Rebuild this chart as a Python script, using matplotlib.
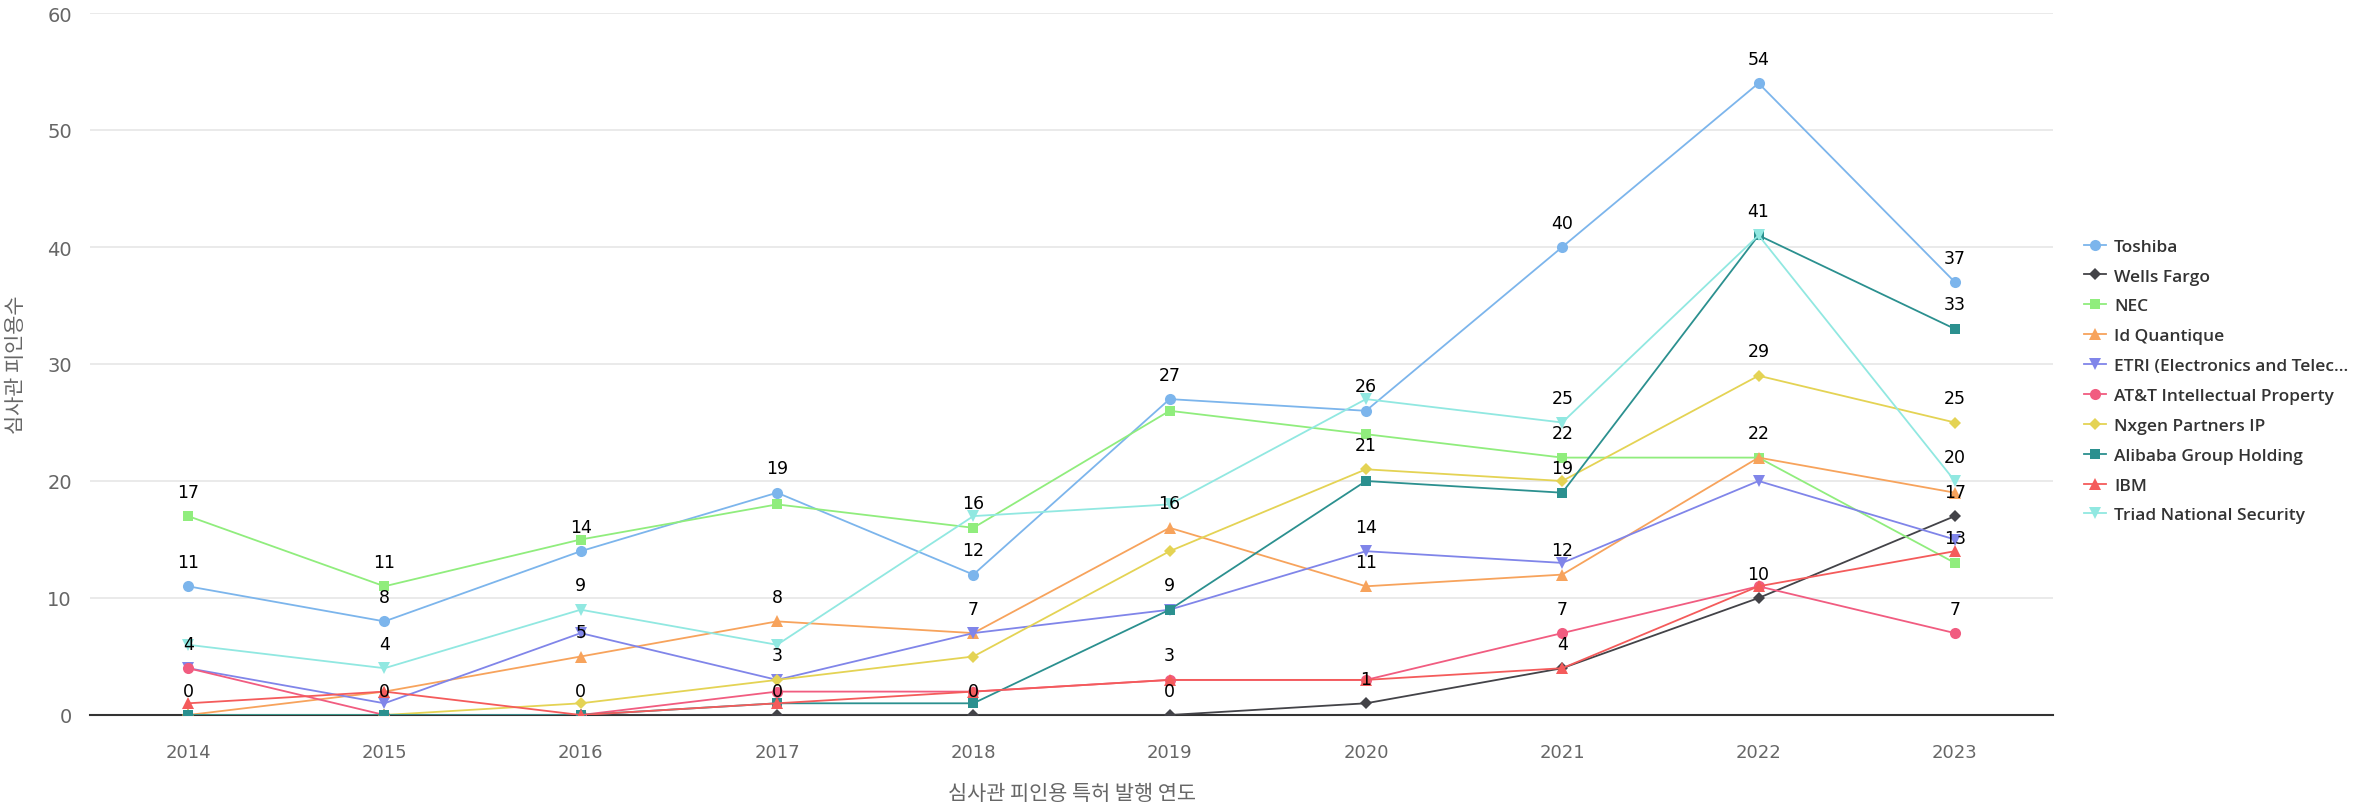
import matplotlib
matplotlib.use("Agg")
import matplotlib.pyplot as plt
import numpy as np

plt.rcParams['font.family'] = ['DejaVu Sans', 'Noto Sans CJK KR']

years = ["2014", "2015", "2016", "2017", "2018", "2019", "2020", "2021", "2022", "2023"]

series_names = ["Toshiba", "Wells Fargo", "NEC", "Id Quantique",
                "ETRI (Electronics and Telec...", "AT&T Intellectual Property",
                "Nxgen Partners IP", "Alibaba Group Holding", "IBM",
                "Triad National Security"]

toshiba = [11, 8, 14, 19, 12, 27, 26, 40, 54, 37]
wells_fargo = [0, 0, 0, 0, 0, 0, 1, 4, 10, 17]
nec = [17, 11, 15, 18, 16, 26, 24, 22, 22, 13]
id_quantique = [0, 2, 5, 8, 7, 16, 11, 12, 22, 19]
etri = [4, 1, 7, 3, 7, 9, 14, 13, 20, 15]
att = [4, 0, 0, 2, 2, 3, 3, 7, 11, 7]
nxgen = [0, 0, 1, 3, 5, 14, 21, 20, 29, 25]
alibaba = [0, 0, 0, 1, 1, 9, 20, 19, 41, 33]
ibm = [1, 2, 0, 1, 2, 3, 3, 4, 11, 14]
triad = [6, 4, 9, 6, 17, 18, 27, 25, 41, 20]

series_values = [toshiba, wells_fargo, nec, id_quantique, etri, att,
                 nxgen, alibaba, ibm, triad]

colors = ["#7cb5ec", "#434348", "#90ed7d", "#f7a35c", "#8085e9",
          "#f15c80", "#e4d354", "#2b908f", "#f45b5b", "#91e8e1"]
markers = ["o", "D", "s", "^", "v", "o", "D", "s", "^", "v"]
msizes = [8, 6, 7.5, 8, 8, 8, 6, 7.5, 8, 8]

W, H = 2379, 803
fig = plt.figure(figsize=(W / 100, H / 100), dpi=100)
ax = fig.add_axes([90 / W, 1 - 716 / H, (2053 - 90) / W, (716 - 14) / H])

x = np.arange(len(years))
handles = []
for name, vals, c, m, ms in zip(series_names, series_values, colors, markers, msizes):
    h, = ax.plot(x, vals, color=c, marker=m, markersize=ms, linewidth=1.3,
                 markeredgewidth=0, label=name, zorder=3)
    handles.append(h)

ax.set_xlim(-0.5, len(years) - 0.5)
ax.set_ylim(0, 60)
ax.set_yticks(np.arange(0, 61, 10))
ax.set_xticks(x)
ax.set_xticklabels(years)
ax.tick_params(axis='both', length=0, labelcolor="#666666")
ax.tick_params(axis='y', pad=13, labelsize=14)
ax.tick_params(axis='x', pad=20, labelsize=13)
ax.grid(axis='y', color="#e6e6e6", linewidth=1.2, zorder=0)
for s in ["top", "right", "left"]:
    ax.spines[s].set_visible(False)
ax.spines["bottom"].set_color("#333333")
ax.spines["bottom"].set_linewidth(1.5)
ax.spines["bottom"].set_zorder(2)

fig.text(16 / W, 1 - 365 / H, "심사관 피인용수", rotation=90, ha="center", va="center",
         fontsize=15, color="#666666", family=['Noto Sans CJK KR'], fontweight='light')
ax.set_xlabel("심사관 피인용 특허 발행 연도", fontsize=15, color="#666666",
              family=['Noto Sans CJK KR'], fontweight='light', labelpad=15)

# data labels with overlap hiding (series order priority)
fig.canvas.draw()
placed = []
box_w, box_h = 32, 29
for vals in series_values:
    for xi, v in zip(x, vals):
        px, py = ax.transData.transform((xi, v))
        cy = py + 26
        ok = True
        for (qx, qy) in placed:
            if abs(qx - px) < box_w and abs(qy - cy) < box_h:
                ok = False
                break
        if ok:
            placed.append((px, cy))
            ax.annotate(str(v), (xi, v), xytext=(0, 14), textcoords="offset points",
                        ha="center", va="baseline", fontsize=12.5, color="#000000",
                        zorder=5)

leg = fig.legend(handles=handles, loc="center left",
                 bbox_to_anchor=(2075 / W, 1 - 382 / H), frameon=False,
                 prop={'family': 'Open Sans', 'size': 12.5, 'weight': 'semibold'},
                 handlelength=1.3, handletextpad=0.45, labelspacing=0.79,
                 borderpad=0, markerscale=1.0)
for t in leg.get_texts():
    t.set_color("#333333")

fig.savefig("out.png", dpi=100)
